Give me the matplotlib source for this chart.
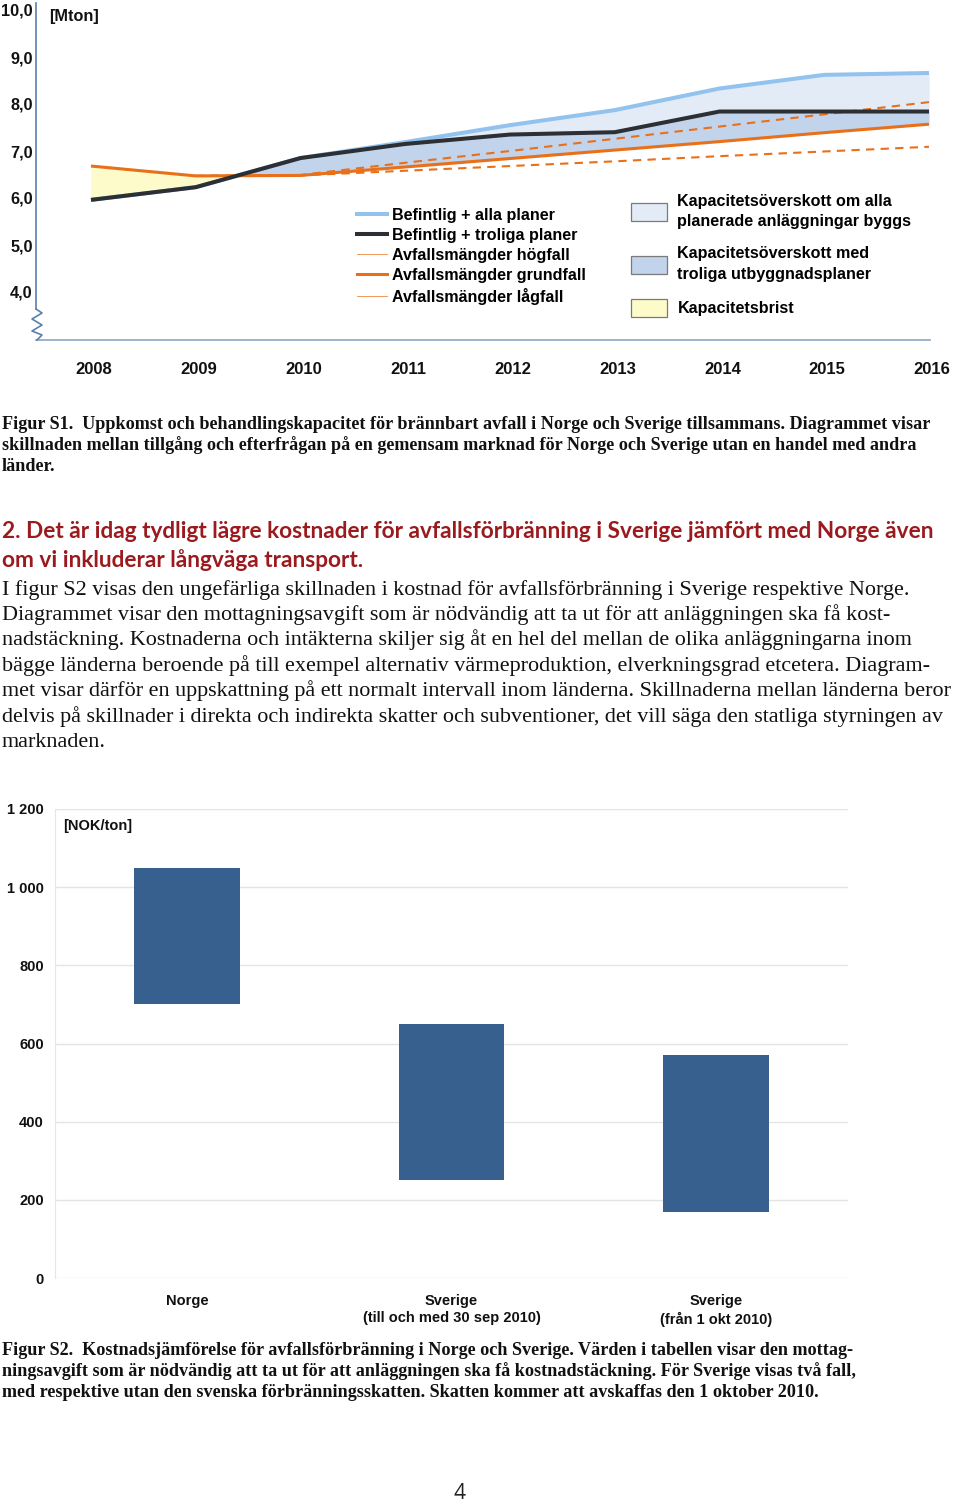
import matplotlib
matplotlib.use('Agg')
import matplotlib.pyplot as plt
import numpy as np
from matplotlib.lines import Line2D
from matplotlib.patches import Patch
from matplotlib.transforms import ScaledTranslation

W, H, DPI = 960, 1501, 100

# ---------------- data: Figur S1 ----------------
years = [2008, 2009, 2010, 2011, 2012, 2013, 2014, 2015, 2016]
alla_planer = [5.96, 6.23, 6.85, 7.19, 7.55, 7.87, 8.33, 8.62, 8.66]
troliga_planer = [5.96, 6.23, 6.85, 7.15, 7.35, 7.40, 7.84, 7.84, 7.84]
grundfall = [6.68, 6.47, 6.48, 6.66, 6.84, 7.02, 7.20, 7.39, 7.57]
hogfall = [np.nan, 6.47, 6.49, 6.75, 7.00, 7.26, 7.52, 7.78, 8.04]
lagfall = [np.nan, 6.47, 6.48, 6.58, 6.68, 6.78, 6.89, 6.99, 7.09]
s1_yticks = [4, 5, 6, 7, 8, 9, 10]
s1_yticklabels = ['4,0', '5,0', '6,0', '7,0', '8,0', '9,0', '10,0']
s1_xticklabels = [str(y) for y in years]

# ---------------- data: Figur S2 ----------------
categories = ['Norge', 'Sverige\n(till och med 30 sep 2010)', 'Sverige\n(från 1 okt 2010)']
cost_low = [700, 250, 170]
cost_high = [1050, 650, 570]
s2_yticks = [0, 200, 400, 600, 800, 1000, 1200]
s2_yticklabels = ['0', '200', '400', '600', '800', '1 000', '1 200']

SANS = ['Liberation Sans', 'DejaVu Sans']
SERIF = ['Liberation Serif', 'DejaVu Serif']

fig = plt.figure(figsize=(W / DPI, H / DPI), dpi=DPI)
fig.patch.set_facecolor('white')


def px_axes(x0, y0, x1, y1):
    return fig.add_axes([x0 / W, 1 - y1 / H, (x1 - x0) / W, (y1 - y0) / H])


def ftext(x, y, s, **kw):
    return fig.text(x / W, 1 - y / H, s, **kw)


# ================= Figur S1 =================
ax = px_axes(36, 3, 930, 340)
PXY = 104.75   # px per year
PXV = 47.0     # px per Mton
x_left = 2008 - (91 - 36) / PXY
x_right = 2016 + (930 - 929) / PXY
y_bot = 10 - (340 - 10) / PXV
y_top = 10 + (10 - 3) / PXV
ax.set_xlim(x_left, x_right)
ax.set_ylim(y_bot, y_top)

c_light = '#e3ebf6'
c_med = '#c2d3ec'
c_yel = '#fdfbc9'
c_blue = '#92c2ee'
c_black = '#2c2f33'
c_orange = '#e8701a'

yrs = np.array(years, dtype=float)
a = np.array(alla_planer)
t = np.array(troliga_planer)
g = np.array(grundfall)
ax.fill_between(yrs, t, a, color=c_light, lw=0, zorder=1)
ax.fill_between(yrs, g, t, where=t >= g, interpolate=True, color=c_med, lw=0, zorder=1)
ax.fill_between(yrs, t, g, where=g >= t, interpolate=True, color=c_yel, lw=0, zorder=1)

ax.plot(yrs, a, color=c_blue, lw=2.9, zorder=3, solid_capstyle='butt')
ax.plot(yrs, hogfall, color=c_orange, lw=1.5, ls=(0, (4, 3)), zorder=4)
ax.plot(yrs, lagfall, color=c_orange, lw=1.5, ls=(0, (4, 3)), zorder=4)
ax.plot(yrs, g, color=c_orange, lw=2.2, zorder=5, solid_capstyle='butt')
ax.plot(yrs, t, color=c_black, lw=2.9, zorder=6, solid_capstyle='butt')

for sp in ['top', 'right']:
    ax.spines[sp].set_visible(False)
ax.spines['left'].set_color('#5b80aa')
ax.spines['left'].set_linewidth(1.2)
ax.spines['left'].set_bounds(10 - (309 - 10) / PXV, y_top)
ax.spines['bottom'].set_color('#8aa5c6')
ax.spines['bottom'].set_linewidth(1.2)

# zigzag break on the y axis (decoration)
zz_px = [(36, 309), (42, 313), (32, 319), (42, 325), (32, 331), (42, 335), (37, 340)]
ax.plot([x_left + (px - 36) / PXY for px, _ in zz_px],
        [10 - (py - 10) / PXV for _, py in zz_px],
        color='#5b80aa', lw=1.2, clip_on=False, zorder=7)

ax.set_yticks(s1_yticks)
ax.set_yticklabels(s1_yticklabels)
ax.set_xticks(years)
ax.set_xticklabels(s1_xticklabels)
ax.tick_params(axis='y', length=0, pad=2.3, labelsize=11.7)
ax.tick_params(axis='x', length=0, pad=16, labelsize=12)
for lab in ax.get_xticklabels() + ax.get_yticklabels():
    lab.set_fontweight('bold')
    lab.set_fontfamily(SANS)
    lab.set_color('#111111')
shift = ScaledTranslation(3 / DPI, 0, fig.dpi_scale_trans)
for lab in ax.get_xticklabels():
    lab.set_transform(lab.get_transform() + shift)

ftext(49, 16, '[Mton]', fontsize=11.7, fontweight='bold', family=SANS,
      va='center', ha='left', color='#111111')

fs_leg = 11.6
h1 = [Line2D([], [], color=c_blue, lw=2.9),
      Line2D([], [], color=c_black, lw=2.9),
      Line2D([], [], color=c_orange, lw=0.5),
      Line2D([], [], color=c_orange, lw=2.2),
      Line2D([], [], color=c_orange, lw=0.5)]
l1 = ['Befintlig + alla planer', 'Befintlig + troliga planer', 'Avfallsmängder högfall',
      'Avfallsmängder grundfall', 'Avfallsmängder lågfall']
leg1 = ax.legend(h1, l1, loc='upper left', bbox_to_anchor=(349 / W, 1 - 200 / H),
                 bbox_transform=fig.transFigure, frameon=False, borderpad=0,
                 handlelength=1.85, handletextpad=0.32, labelspacing=0.31,
                 prop={'family': SANS, 'weight': 'bold', 'size': fs_leg})
ax.add_artist(leg1)

h2 = [Patch(facecolor=c_light, edgecolor='#7a7a7a', lw=0.9),
      Patch(facecolor=c_med, edgecolor='#7a7a7a', lw=0.9),
      Patch(facecolor=c_yel, edgecolor='#7a7a7a', lw=0.9)]
l2 = ['Kapacitetsöverskott om alla\nplanerade anläggningar byggs',
      'Kapacitetsöverskott med\ntroliga utbyggnadsplaner',
      'Kapacitetsbrist']
leg2 = ax.legend(h2, l2, loc='upper left', bbox_to_anchor=(623 / W, 1 - 186 / H),
                 bbox_transform=fig.transFigure, frameon=False, borderpad=0,
                 handlelength=2.2, handleheight=1.35, handletextpad=0.68,
                 labelspacing=1.08,
                 prop={'family': SANS, 'weight': 'bold', 'size': fs_leg})
for txt in leg2.get_texts():
    txt.set_linespacing(1.42)


# ================= text helper =================
def fit_block(lines, x, baselines, target_w, ref, **kw):
    ts = [ftext(x, b, s, fontsize=10, va='baseline', ha='left', **kw)
          for s, b in zip(lines, baselines)]
    r = fig.canvas.get_renderer()
    w = ts[ref].get_window_extent(r).width
    fs = 10 * target_w / w
    for tt in ts:
        tt.set_fontsize(fs)
    return ts


cap1 = ['Figur S1.  Uppkomst och behandlingskapacitet för brännbart avfall i Norge och Sverige tillsammans. Diagrammet visar',
        'skillnaden mellan tillgång och efterfrågan på en gemensam marknad för Norge och Sverige utan en handel med andra',
        'länder.']
fit_block(cap1, 2, [429, 450, 471], 930, 0, family=SERIF, fontweight='bold', color='#111111')

head = ['2. Det är idag tydligt lägre kostnader för avfallsförbränning i Sverige jämfört med Norge även',
        'om vi inkluderar långväga transport.']
fit_block(head, 2, [538, 567], 936, 0, family=['Lato', 'DejaVu Sans'], fontweight='bold', color='#9a1a1e')

body = ['I figur S2 visas den ungefärliga skillnaden i kostnad för avfallsförbränning i Sverige respektive Norge.',
        'Diagrammet visar den mottagningsavgift som är nödvändig att ta ut för att anläggningen ska få kost-',
        'nadstäckning. Kostnaderna och intäkterna skiljer sig åt en hel del mellan de olika anläggningarna inom',
        'bägge länderna beroende på till exempel alternativ värmeproduktion, elverkningsgrad etcetera. Diagram-',
        'met visar därför en uppskattning på ett normalt intervall inom länderna. Skillnaderna mellan länderna beror',
        'delvis på skillnader i direkta och indirekta skatter och subventioner, det vill säga den statliga styrningen av',
        'marknaden.']
fit_block(body, 2, [595, 620, 645, 671, 696, 722, 747], 956, 4, family=SERIF, color='#111111')

# ================= Figur S2 =================
bx = px_axes(55, 809, 848, 1278)
bx.set_ylim(0, 1200)
bx.set_xlim(-0.5, len(categories) - 0.5)
xpos = np.arange(len(categories))
heights = [h - l for h, l in zip(cost_high, cost_low)]
bx.bar(xpos, heights, bottom=cost_low, width=0.4, color='#37608f', zorder=3)
bx.set_yticks(s2_yticks)
bx.set_yticklabels(s2_yticklabels)
bx.set_xticks(xpos)
bx.set_xticklabels(categories, linespacing=1.3)
bx.yaxis.grid(True, color='#e4e4e4', lw=1.0, zorder=0)
bx.set_axisbelow(True)
for sp in ['top', 'right', 'bottom']:
    bx.spines[sp].set_visible(False)
bx.spines['left'].set_color('#e6e6e6')
bx.tick_params(axis='y', length=0, pad=8, labelsize=10.5)
bx.tick_params(axis='x', length=0, pad=11.5, labelsize=10.5)
for lab in bx.get_xticklabels() + bx.get_yticklabels():
    lab.set_fontweight('bold')
    lab.set_fontfamily(SANS)
    lab.set_color('#111111')

ftext(63, 826, '[NOK/ton]', fontsize=10.5, fontweight='bold', family=SANS,
      va='center', ha='left', color='#111111')

cap2 = ['Figur S2.  Kostnadsjämförelse för avfallsförbränning i Norge och Sverige. Värden i tabellen visar den mottag-',
        'ningsavgift som är nödvändig att ta ut för att anläggningen ska få kostnadstäckning. För Sverige visas två fall,',
        'med respektive utan den svenska förbränningsskatten. Skatten kommer att avskaffas den 1 oktober 2010.']
fit_block(cap2, 2, [1355, 1376, 1397], 855, 1, family=SERIF, fontweight='bold', color='#111111')

ftext(460, 1499, '4', fontsize=15, family=['Open Sans', 'DejaVu Sans'], ha='center',
      va='baseline', color='#222222')

fig.savefig('out.png', dpi=DPI, facecolor='white')
